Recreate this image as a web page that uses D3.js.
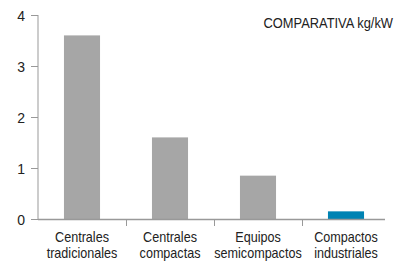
<!DOCTYPE html>
<html>
<head>
<meta charset="utf-8">
<script src="https://cdn.jsdelivr.net/npm/d3@7"></script>
<style>
body{margin:0;background:#fff;}
text{font-family:"Liberation Sans",Arial,sans-serif;fill:#222;}
</style>
</head>
<body>
<svg id="chart" width="395" height="262"></svg>
<script>
// datos
var categorias = [["Centrales","tradicionales"],["Centrales","compactas"],["Equipos","semicompactos"],["Compactos","industriales"]];
var valores = [3.6, 1.6, 0.85, 0.15];
var colores = ["#a6a6a6","#a6a6a6","#a6a6a6","#0083b3"];
var ticksY = [0, 1, 2, 3, 4];
var titulo = "COMPARATIVA kg/kW";

var svg = d3.select("#chart");
var mLeft = 38, mRight = 390, mTop = 15, mBottom = 219;

var x = d3.scaleBand()
	.domain(d3.range(valores.length))
	.range([mLeft, mRight])
	.paddingInner(0.59)
	.paddingOuter(0.295);

var y = d3.scaleLinear().domain([0, 4]).range([mBottom, mTop]);

// eje y
var gy = svg.append("g").attr("transform", "translate(" + mLeft + ",0)")
	.call(d3.axisLeft(y).tickValues(ticksY).tickSize(7).tickPadding(6).tickFormat(d3.format("d")));
gy.select(".domain").attr("stroke", "#999").attr("d", "M0," + mTop + "V" + mBottom);
gy.selectAll(".tick line").attr("stroke", "#999");
gy.selectAll(".tick text")
	.attr("font-size", 14)
	.style("font-family", "Liberation Sans, Arial, sans-serif")
	.attr("fill", "#222")
	.attr("dy", "0.36em");

// barras
svg.selectAll(".bar")
	.data(valores)
	.enter().append("rect")
	.attr("class", "bar")
	.attr("x", function(d, i){ return x(i); })
	.attr("width", x.bandwidth())
	.attr("y", function(d){ return y(d); })
	.attr("height", function(d){ return y(0) - y(d); })
	.attr("fill", function(d, i){ return colores[i]; });

// eje x
svg.append("line")
	.attr("x1", mLeft).attr("x2", 385)
	.attr("y1", mBottom + 0.5).attr("y2", mBottom + 0.5)
	.attr("stroke", "#999").attr("stroke-width", 1.5);

svg.selectAll(".sep")
	.data(d3.range(1, valores.length))
	.enter().append("line")
	.attr("x1", function(i){ return Math.round(x(i) - x.step() * 0.295) + 0.5; })
	.attr("x2", function(i){ return Math.round(x(i) - x.step() * 0.295) + 0.5; })
	.attr("y1", mBottom).attr("y2", mBottom + 7)
	.attr("stroke", "#999");

// etiquetas estrechas (fuente condensada simulada)
var etiquetas = svg.selectAll(".cat")
	.data(categorias)
	.enter().append("text")
	.attr("class", "cat")
	.attr("text-anchor", "middle")
	.attr("font-size", 14)
	.attr("transform", function(d, i){ return "translate(" + (x(i) + x.bandwidth() / 2) + ",0) scale(0.9,1)"; });
etiquetas.selectAll("tspan")
	.data(function(d){ return d; })
	.enter().append("tspan")
	.attr("x", 0)
	.attr("y", function(d, j){ return 242.5 + j * 16; })
	.text(function(d){ return d; });

svg.append("text")
	.attr("transform", "translate(393,28) scale(0.86,1)")
	.attr("text-anchor", "end")
	.attr("font-size", 15)
	.text(titulo);
</script>
</body>
</html>
